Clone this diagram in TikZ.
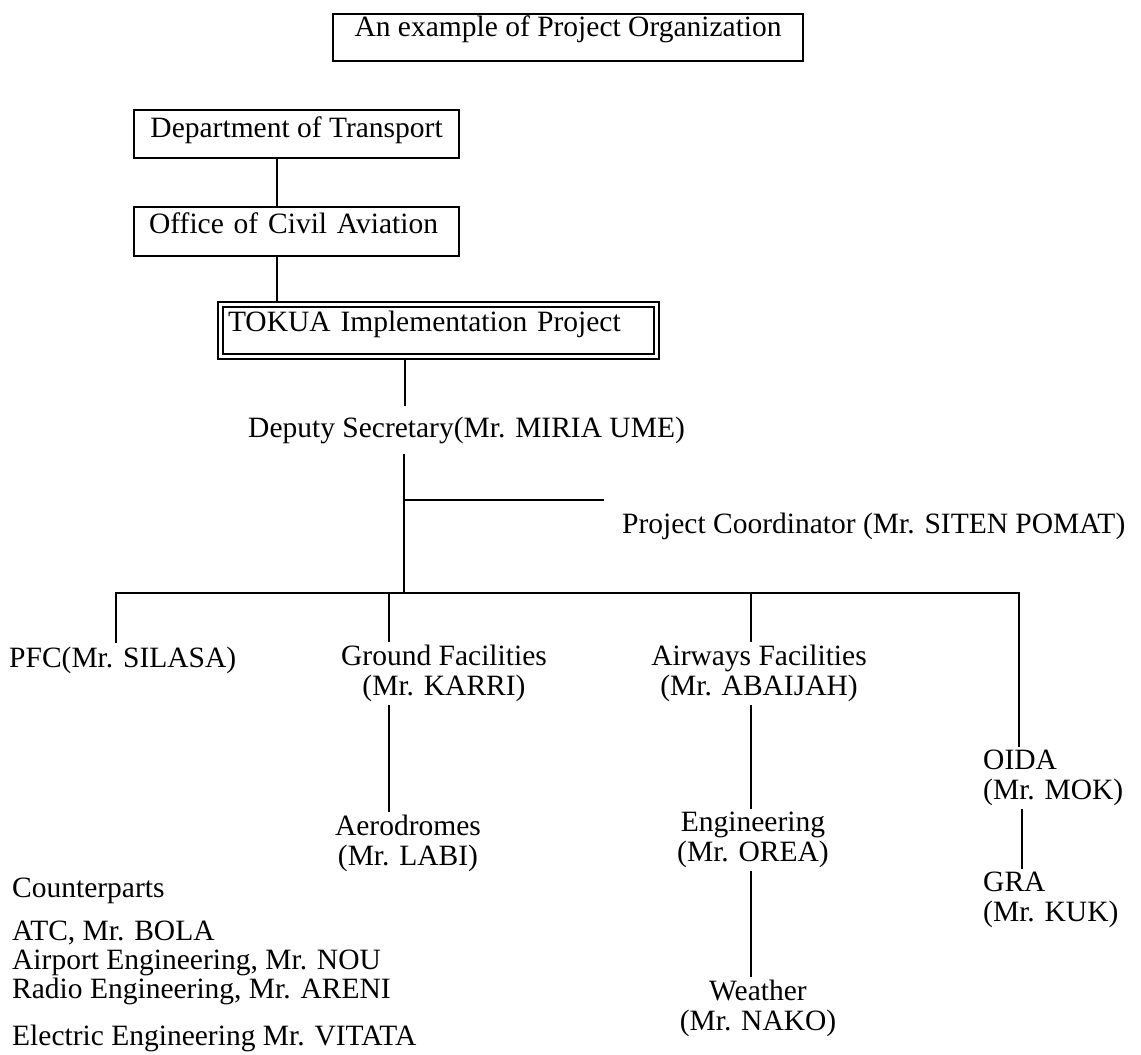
\documentclass[tikz,border=0pt]{standalone}
\usepackage{fontspec}
\setmainfont{Liberation Serif}
\begin{document}
\begin{tikzpicture}[x=1pt,y=-1pt,
  every node/.style={font=\fontsize{29.5}{30}\selectfont},
  box/.style={draw, line width=2.2pt, inner ysep=0pt},
  lbl/.style={inner xsep=0pt, inner ysep=3pt},
  conn/.style={line width=2.6pt}]
\fill[white] (0,0) rectangle (1141,1055);
\useasboundingbox (0,0) rectangle (1141,1055);

% boxes
\node[box, anchor=north west, minimum width=470pt, inner xsep=0pt, text height=22pt, text depth=25pt] (title) at (332,13) {An example of Project Organization};
\node[box, anchor=north west, minimum width=325pt, inner xsep=0pt, text height=27pt, text depth=21pt] (dot) at (133,109) {Department of Transport};
\node[box, anchor=north west, inner xsep=15pt, text width=295pt, align=left, text height=26pt, text depth=23pt] (oca) at (133,206) {Office of Civil Aviation};
\node[box, double, double distance=3pt, line width=2pt, anchor=north west, inner xsep=8pt, text width=420pt, align=left, text height=27.5pt, text depth=25pt] (tokua) at (219,303) {TOKUA Implementation Project};

% labels
\node[lbl, inner ysep=10pt, anchor=base west] (dep) at (248,437) {Deputy Secretary(Mr. MIRIA UME)};
\node[lbl, inner xsep=18pt, anchor=base west] (pc) at (604,533) {Project Coordinator (Mr. SITEN POMAT)};
\node[lbl, anchor=base west] (pfc) at (9,667) {PFC(Mr. SILASA)};
\node[lbl, align=center, anchor=north] (gf) at (444,642) {Ground Facilities\\(Mr. KARRI)};
\node[lbl, align=center, anchor=north] (afc) at (759,642) {Airways Facilities\\(Mr. ABAIJAH)};
\node[lbl, align=center, anchor=north] (aero) at (408,812) {Aerodromes\\(Mr. LABI)};
\node[lbl, align=center, anchor=north] (eng) at (753,809) {Engineering\\(Mr. OREA)};
\node[lbl, align=center, anchor=north] (wea) at (758,977) {Weather\\(Mr. NAKO)};
\node[lbl, align=left, anchor=north west] (oida) at (983,747) {OIDA\\(Mr. MOK)};
\node[lbl, align=left, anchor=north west] (gra) at (983,869) {GRA\\(Mr. KUK)};
\node[lbl, anchor=base west] (cp) at (12,897) {Counterparts};
\node[lbl, align=left, anchor=north west, font=\fontsize{29.5}{29}\selectfont] (cpl) at (12,917.5) {ATC, Mr. BOLA\\Airport Engineering, Mr. NOU\\Radio Engineering, Mr. ARENI};
\node[lbl, anchor=base west] (cpe) at (12,1045) {Electric Engineering Mr. VITATA};

% coordinates
\coordinate (colA) at (277,0);
\coordinate (colB) at (405,0);
\coordinate (hub) at (404,593);
\coordinate (jc) at (404,500);
\coordinate (bL) at (116,593);
\coordinate (bR) at (1019,593);
\coordinate (bG) at (389,593);
\coordinate (bA) at (751,593);
\coordinate (bO) at (1022,0);

% connectors
\draw[conn] (dot.south -| colA) -- (oca.north -| colA);
\draw[conn] (oca.south -| colA) -- (tokua.north -| colA);
\draw[conn] (tokua.south -| colB) -- (dep.north -| colB);
\draw[conn] (dep.south -| hub) -- (hub);
\draw[conn] (jc) -- (jc -| pc.west);
\draw[conn] (pfc.north -| bL) -- (bL) -- (bR) -- (oida.north -| bR);
\draw[conn] (bG) -- (gf.north -| bG);
\draw[conn] (gf.south -| bG) -- (aero.north -| bG);
\draw[conn] (bA) -- (afc.north -| bA);
\draw[conn] (afc.south -| bA) -- (eng.north -| bA);
\draw[conn] (eng.south -| bA) -- (wea.north -| bA);
\draw[conn] (oida.south -| bO) -- (gra.north -| bO);
\end{tikzpicture}
\end{document}
